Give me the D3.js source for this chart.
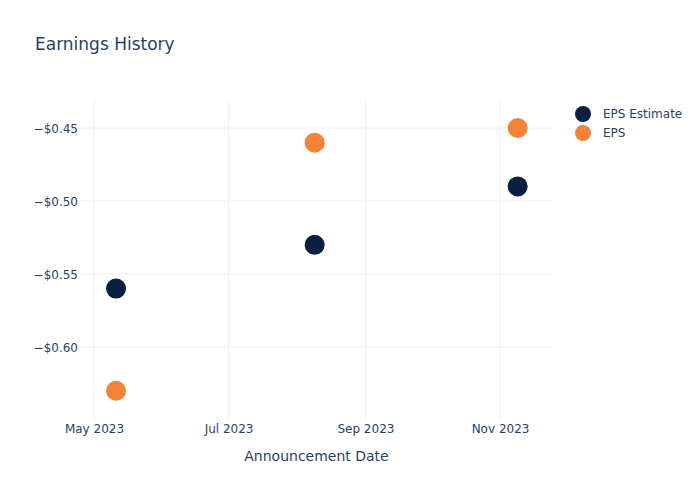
<!DOCTYPE html>
<html><head><meta charset="utf-8">
<script src="https://cdn.jsdelivr.net/npm/d3@7"></script>
<style>body{margin:0;background:#fff;}svg{display:block;font-family:"DejaVu Sans",Verdana,sans-serif;}</style>
</head><body>
<script>
const dates = ["2023-05-11", "2023-08-09", "2023-11-09"];
const epsEstimate = [-0.56, -0.53, -0.49];
const epsActual = [-0.63, -0.46, -0.45];
const yTicks = [-0.45, -0.50, -0.55, -0.60];
const xTicks = ["2023-05-01", "2023-07-01", "2023-09-01", "2023-11-01"];
const seriesNames = ["EPS Estimate", "EPS"];
const colors = ["#0b1f41", "#f58337"];

const W = 700, H = 500;
const m = {l: 80, r: 147, t: 100, b: 80};
const parse = d3.utcParse("%Y-%m-%d");
const svg = d3.select("body").append("svg").attr("width", W).attr("height", H);

const x = d3.scaleUtc()
  .domain([new Date(Date.UTC(2023, 3, 24, 16)), new Date(Date.UTC(2023, 10, 25))])
  .range([m.l, W - m.r]);
const y = d3.scaleLinear().domain([-0.65, -0.4308]).range([H - m.b, m.t]);

const text = "#2a3f5f", grid = "#ebf0f8";

// grid
svg.append("g").selectAll("line").data(xTicks).join("line")
  .attr("x1", d => x(parse(d))).attr("x2", d => x(parse(d)))
  .attr("y1", m.t).attr("y2", H - m.b).attr("stroke", grid).attr("stroke-width", 1);
svg.append("g").selectAll("line").data(yTicks).join("line")
  .attr("x1", m.l).attr("x2", W - m.r)
  .attr("y1", d => y(d)).attr("y2", d => y(d)).attr("stroke", grid).attr("stroke-width", 1);

// axes
const fmtY = d => "\u2212$" + Math.abs(d).toFixed(2);
const yAxis = d3.axisLeft(y).tickValues(yTicks).tickFormat(fmtY).tickSize(0).tickPadding(0);
const gy = svg.append("g").attr("transform", `translate(${m.l - 2},0)`).call(yAxis)
  .attr("font-family", null).attr("font-size", 12);
gy.select(".domain").remove();
gy.selectAll("text").attr("fill", text).attr("dy", "0.35em");

const xAxis = d3.axisBottom(x).tickValues(xTicks.map(parse)).tickFormat(d3.utcFormat("%b %Y")).tickSize(0).tickPadding(0);
const gx = svg.append("g").attr("transform", `translate(0,${H - m.b + 4})`).call(xAxis)
  .attr("font-family", null).attr("font-size", 12);
gx.select(".domain").remove();
gx.selectAll("text").attr("fill", text).attr("dy", "0.71em");

svg.append("text").attr("x", (m.l + W - m.r) / 2).attr("y", 461).attr("text-anchor", "middle")
  .attr("fill", text).attr("font-size", 14).text("Announcement Date");

svg.append("text").attr("x", 35).attr("y", 50).attr("fill", text).attr("font-size", 17).text("Earnings History");

// points
const series = [epsEstimate, epsActual];
series.forEach((vals, i) => {
  svg.append("g").selectAll("circle").data(vals).join("circle")
    .attr("cx", (d, j) => x(parse(dates[j]))).attr("cy", d => y(d))
    .attr("r", 10).attr("fill", colors[i]);
});

// legend
const lg = svg.append("g");
seriesNames.forEach((n, i) => {
  lg.append("circle").attr("cx", 583).attr("cy", 114 + i * 19).attr("r", 8).attr("fill", colors[i]);
  lg.append("text").attr("x", 603).attr("y", 114 + i * 19).attr("dy", "0.35em")
    .attr("fill", text).attr("font-size", 12).text(n);
});
</script>
</body></html>
